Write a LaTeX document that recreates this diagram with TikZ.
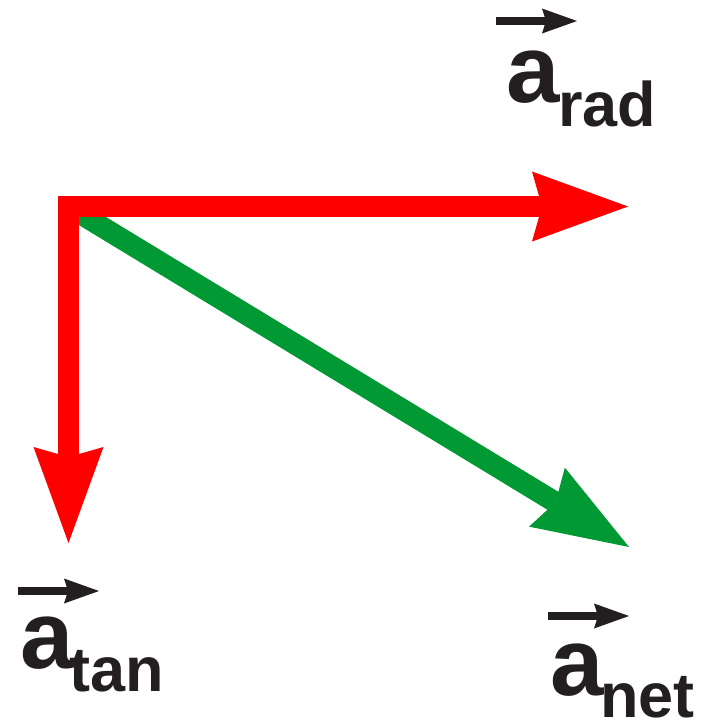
\documentclass[tikz,border=0pt]{standalone}
\usepackage{fontspec}
\setmainfont{Liberation Sans}
\usetikzlibrary{calc, arrows.meta}
\definecolor{vred}{RGB}{255,0,0}
\definecolor{vgreen}{RGB}{0,153,51}
\definecolor{ink}{RGB}{35,31,32}

\begin{document}
\begin{tikzpicture}[x=1pt, y=-1pt,
        bigvec/.style={line width=21pt, line join=miter,
            {Stealth[length=96pt, width=70pt, inset=10pt, line width=0pt]}-{Stealth[length=96pt, width=70pt, inset=10pt, line width=0pt]}},
        netvec/.style={line width=21pt, vgreen,
            -{Stealth[length=96pt, width=69pt, inset=10pt, line width=0pt]}},
        overvec/.style={line width=8pt, ink,
            -{Stealth[length=35pt, width=25pt, inset=4pt, line width=0pt]}},
        letter/.style={anchor=base west, inner sep=0pt, text=ink, text depth=0pt,
            font=\bfseries\fontsize{96}{96}\selectfont},
        subscr/.style={anchor=base west, inner sep=0pt, text=ink, text depth=0pt,
            font=\bfseries\fontsize{63}{63}\selectfont}]
    \useasboundingbox (0,0) rectangle (710,728);
    \coordinate (O) at (68.5,206.5);
    \coordinate (R) at (628,206.5);
    \coordinate (T) at (68.5,543);
    \coordinate (N) at (629,547);
    \draw[netvec] (O) -- (N);
    \draw[bigvec, vred] (T) |- (R);
    \foreach \nm/\ax/\ay/\sx/\sy/\vx/\vy in {rad/506/102/558/126/496/21, tan/20/668/69/691/18/591, net/550/695/600/717/548/616}{
        \node[letter] (a\nm) at (\ax,\ay) {a};
        \node[subscr] (s\nm) at (\sx,\sy) {\nm};
        \coordinate (v\nm) at (\vx,\vy);
        \coordinate (w\nm) at ($(v\nm)+(81,0)$);
        \draw[overvec] (v\nm) -- (w\nm);
    }
\end{tikzpicture}
\end{document}
